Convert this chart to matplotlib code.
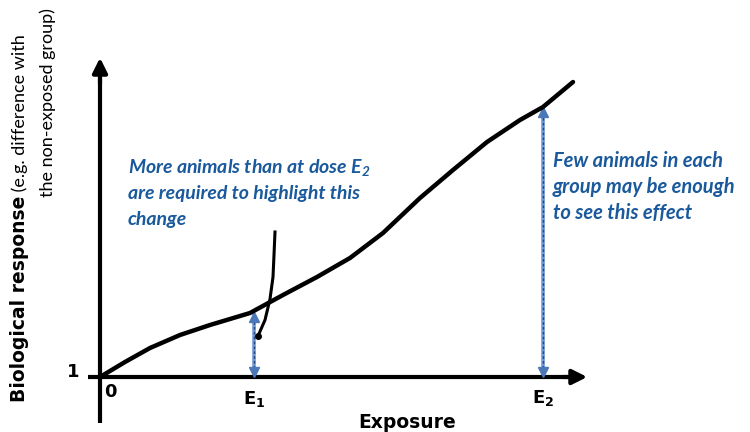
import matplotlib
matplotlib.use("Agg")
import matplotlib.pyplot as plt

# dose-response curve (exposure units ~ pixels from origin)
exposure = [0, 25, 50, 80, 110, 150, 183, 217, 250, 283, 320, 353, 387, 420, 443, 473]
response = [0, 15, 29, 42, 52, 64, 82, 100, 119, 144, 179, 207, 235, 257, 270, 295]

# pointer from the left note down to the E1 effect
pointer_x = [175, 174, 173, 170, 165, 158]
pointer_y = [145, 122, 100, 78, 57, 41]

dose_E1 = 154
dose_E2 = 443
resp_E1 = 65
resp_E2 = 270

note_left = [r"More animals than at dose $E_2$",
             "are required to highlight this",
             "change"]
note_right = ["Few animals in each",
              "group may be enough",
              "to see this effect"]

plt.rcParams['font.family'] = ['DejaVu Sans']
plt.rcParams['mathtext.fontset'] = 'custom'
plt.rcParams['mathtext.it'] = 'Lato:bold:italic'
plt.rcParams['mathtext.rm'] = 'Lato:bold:italic'
plt.rcParams['mathtext.bf'] = 'DejaVu Sans:bold'

fig = plt.figure(figsize=(7.5, 4.32), dpi=100)
ax = fig.add_axes([0, 0, 1, 1])
ax.set_xlim(-100, 650)
ax.set_ylim(-55, 377)
ax.set_axis_off()

# axes with arrows
ax.plot([0, 0], [-46, 300], color='black', lw=3, solid_capstyle='butt')
ax.annotate('', xy=(0, 322), xytext=(0, 290),
            arrowprops=dict(arrowstyle='-|>', lw=3, color='black', mutation_scale=22))
ax.plot([-12, 470], [0, 0], color='black', lw=3, solid_capstyle='butt')
ax.annotate('', xy=(490, 0), xytext=(460, 0),
            arrowprops=dict(arrowstyle='-|>', lw=3, color='black', mutation_scale=22))

# curve
ax.plot(exposure, response, color='black', lw=3.2, solid_joinstyle='round',
        solid_capstyle='round', zorder=4)

# pointer
ax.plot(pointer_x, pointer_y, color='black', lw=2.2, solid_joinstyle='round', zorder=4)
ax.plot(pointer_x[-1], pointer_y[-1], 'o', color='black', ms=4, zorder=5)

# dashed double arrows
for d, r in [(dose_E1, resp_E1), (dose_E2, resp_E2)]:
    ax.plot([d, d], [4, r - 4], color='#6f9ad6', lw=2.6, zorder=3)
    ax.plot([d, d], [4, r - 4], color='#24487c', lw=1.0, ls=(0, (2, 1.5)), zorder=3)
    ax.plot(d, r - 5, marker='^', color='#4a78b8', ms=7, zorder=3)
    ax.plot(d, 5, marker='v', color='#4a78b8', ms=7, zorder=3)

# annotations
blue = '#1a5a9c'
for i, s in enumerate(note_left):
    ax.text(28, 209 - i * 26, s, color=blue, fontsize=14, fontweight='bold',
            style='italic', ha='left', va='center', family='Lato')
for i, s in enumerate(note_right):
    ax.text(453, 216 - i * 26, s, color=blue, fontsize=14.5, fontweight='bold',
            style='italic', ha='left', va='center', family='Lato')

# tick-like labels
ax.text(-27, 5, '1', fontsize=13, fontweight='bold', ha='center', va='center')
ax.text(10, -15, '0', fontsize=13, fontweight='bold', ha='center', va='center')
ax.text(dose_E1, -22, r'E$_\mathbf{1}$', fontsize=13, fontweight='bold', ha='center', va='center')
ax.text(dose_E2, -21, r'E$_\mathbf{2}$', fontsize=13, fontweight='bold', ha='center', va='center')
ax.text(307, -45, 'Exposure', fontsize=13.5, fontweight='bold', ha='center', va='center')

# y label, two rotated lines
t1 = ax.text(-80, -25, 'Biological response', fontsize=13.5, fontweight='bold',
             rotation=90, ha='center', va='bottom')
ax.annotate(' (e.g. difference with', xycoords=t1, xy=(0.5, 1), fontsize=13,
            rotation=90, ha='center', va='bottom', annotation_clip=False, family='Lato')
ax.text(-52, 369, 'the non-exposed group)', fontsize=13, rotation=90,
        ha='center', va='top', family='Lato')

fig.savefig('out.png', dpi=100)
